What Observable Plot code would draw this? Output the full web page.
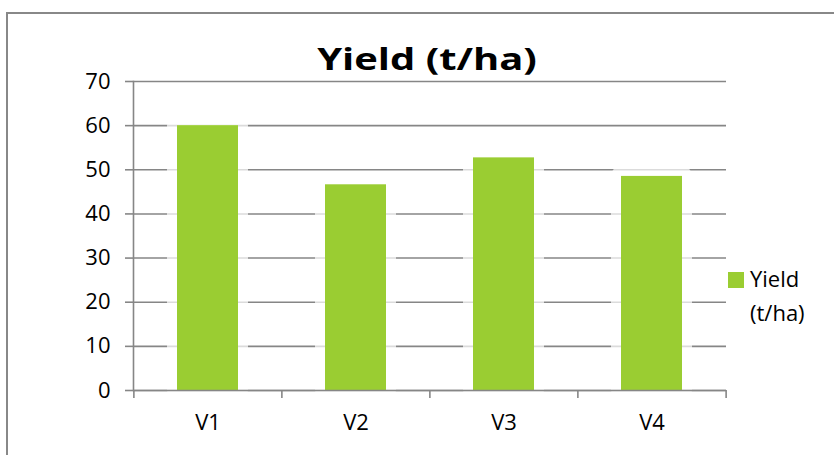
<!DOCTYPE html>
<html>
<head>
<meta charset="utf-8">
<script src="https://cdn.jsdelivr.net/npm/d3@7"></script>
<script src="https://cdn.jsdelivr.net/npm/@observablehq/plot@0.6"></script>
<style>
  html, body { margin: 0; padding: 0; background: #fff; overflow: hidden; }
  #wrap { position: relative; width: 834px; height: 455px; overflow: hidden; font-family: "Open Sans", sans-serif; }
  #frame { position: absolute; left: 6px; top: 12px; width: 850px; height: 470px; border: 2px solid #888; box-sizing: border-box; }
  #chart { position: absolute; left: 0; top: 0; }
  #title { position: absolute; left: 226.5px; width: 400px; top: 43.8px; text-align: center; font-weight: bold; font-size: 30px; line-height: 30px; color: #000; white-space: nowrap; transform: scaleX(1.33); transform-origin: 50% 50%; }
  #legend { position: absolute; left: 728px; top: 261px; font-size: 22px; line-height: 34px; color: #000; }
  #legend .sw { position: absolute; left: 0; top: 11px; width: 16px; height: 16px; background: #9acd32; }
  #legend .tx { position: absolute; left: 22px; top: 0; white-space: nowrap; }
</style>
</head>
<body>
<div id="wrap">
  <div id="frame"></div>
  <div id="chart"></div>
  <div id="title">Yield (t/ha)</div>
  <div id="legend"><div class="sw"></div><div class="tx">Yield<br>(t/ha)</div></div>
</div>
<script>
const categories = ["V1", "V2", "V3", "V4"];
const yieldValues = [60, 46.6, 52.7, 48.5];
const yTicks = [0, 10, 20, 30, 40, 50, 60, 70];

const data = categories.map((c, i) => ({cat: c, value: yieldValues[i]}));

const W = 834, H = 455, ML = 133, MR = 108, MT = 81, MB = 65;
const half = (W - ML - MR) / categories.length / 2;
const axisColor = "#868686";

const chart = Plot.plot({
  width: W, height: H,
  marginLeft: ML, marginRight: MR, marginTop: MT, marginBottom: MB,
  style: {fontFamily: "Open Sans", fontSize: "22px", color: "#000", background: "transparent", overflow: "visible"},
  x: {domain: categories, paddingInner: 0.59, paddingOuter: 0.295, axis: null, label: null},
  y: {domain: [0, 70], axis: null, label: null},
  marks: [
    Plot.gridY(yTicks, {stroke: axisColor, strokeOpacity: 1, strokeWidth: 1.6}),
    Plot.barY(data, {x: "cat", y: "value", fill: "#fff", stroke: "#fff", strokeWidth: 20, strokeOpacity: 0.7, strokeLinejoin: "round"}),
    Plot.barY(data, {x: "cat", y: "value", fill: "#9acd32"}),
    Plot.frame({anchor: "left", stroke: axisColor, strokeWidth: 1.6}),
    Plot.ruleY([0], {stroke: axisColor, strokeWidth: 1.6}),
    Plot.axisY(yTicks, {tickSize: 8, tickPadding: 15, stroke: axisColor, strokeWidth: 1.6, fill: "#000", fontSize: 22, label: null}),
    Plot.axisX(categories, {tickSize: 0, tickPadding: 24, fill: "#000", fontSize: 22, label: null}),
    Plot.axisX(categories, {tickSize: 8, tickFormat: () => "", dx: -half, stroke: axisColor, strokeWidth: 1.6, label: null}),
    Plot.axisX(["V4"], {tickSize: 8, tickFormat: () => "", dx: half, stroke: axisColor, strokeWidth: 1.6, label: null})
  ]
});
document.getElementById("chart").appendChild(chart);
</script>
</body>
</html>
